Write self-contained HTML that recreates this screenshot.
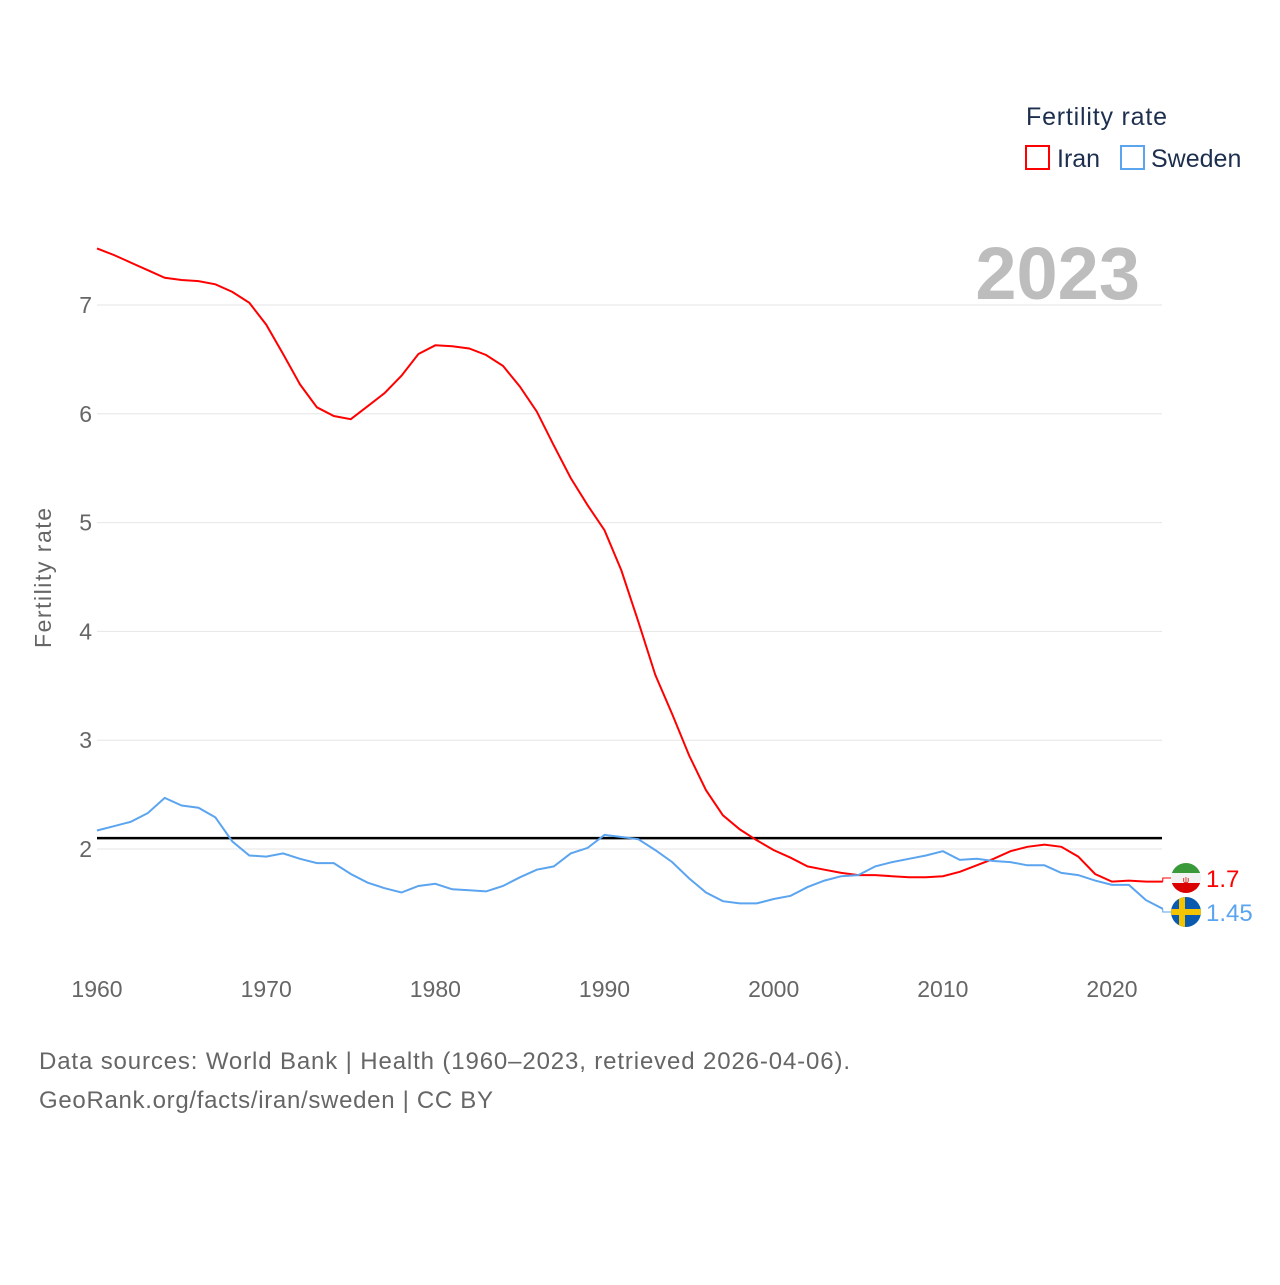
<!DOCTYPE html>
<html><head><meta charset="utf-8"><style>
body{margin:0;background:#fff;width:1280px;height:1280px;overflow:hidden;font-family:"Liberation Sans",sans-serif}
</style></head><body>
<svg id="chart" width="1280" height="1280" xmlns="http://www.w3.org/2000/svg" font-family="Liberation Sans, sans-serif">
<text x="1026" y="125" font-size="25" fill="#1d2f4e" textLength="141">Fertility rate</text>
<g><rect x="1026" y="146" width="23" height="23" fill="none" stroke="#f00" stroke-width="2"/><text x="1057" y="167" font-size="25" fill="#1d2f4e">Iran</text></g>
<g><rect x="1121" y="146" width="23" height="23" fill="none" stroke="#5ba4ef" stroke-width="2"/><text x="1151" y="167" font-size="25" fill="#1d2f4e">Sweden</text></g>
<text x="1140" y="299" font-size="74" font-weight="bold" fill="#bdbdbd" text-anchor="end">2023</text>
<text transform="translate(51,578) rotate(-90)" font-size="23" fill="#666" text-anchor="middle" textLength="140">Fertility rate</text>
<g id="grid"></g><g id="series"></g>
<text x="39" y="1069" font-size="24" fill="#666" textLength="811">Data sources: World Bank | Health (1960–2023, retrieved 2026-04-06).</text>
<text x="39" y="1108" font-size="24" fill="#666" textLength="454">GeoRank.org/facts/iran/sweden | CC BY</text>
</svg>
<script>
const years=[];for(let y=1960;y<=2023;y++)years.push(y);
const iran=[7.52,7.46,7.39,7.32,7.25,7.23,7.22,7.19,7.12,7.02,6.82,6.55,6.27,6.06,5.98,5.95,6.07,6.19,6.35,6.55,6.63,6.62,6.60,6.54,6.44,6.25,6.02,5.71,5.41,5.16,4.93,4.56,4.09,3.60,3.24,2.86,2.54,2.31,2.18,2.08,1.99,1.92,1.84,1.81,1.78,1.76,1.76,1.75,1.74,1.74,1.75,1.79,1.85,1.91,1.98,2.02,2.04,2.02,1.93,1.77,1.70,1.71,1.70,1.70];
const sweden=[2.17,2.21,2.25,2.33,2.47,2.40,2.38,2.29,2.07,1.94,1.93,1.96,1.91,1.87,1.87,1.77,1.69,1.64,1.60,1.66,1.68,1.63,1.62,1.61,1.66,1.74,1.81,1.84,1.96,2.01,2.13,2.11,2.09,1.99,1.88,1.73,1.60,1.52,1.50,1.50,1.54,1.57,1.65,1.71,1.75,1.76,1.84,1.88,1.91,1.94,1.98,1.90,1.91,1.89,1.88,1.85,1.85,1.78,1.76,1.71,1.67,1.67,1.53,1.45];
const yTicks=[2,3,4,5,6,7];
const xTicks=[1960,1970,1980,1990,2000,2010,2020];
const replacement=[2.1];
const NS='http://www.w3.org/2000/svg';
const X=y=>97+(y-1960)*16.917;
const Y=v=>1066.6-v*108.8;
function mk(t,a,p){const e=document.createElementNS(NS,t);for(const k in a)e.setAttribute(k,a[k]);p.appendChild(e);return e;}
const grid=document.getElementById('grid'),ser=document.getElementById('series');
yTicks.forEach(v=>{
 const l=mk('line',{x1:97,x2:1162,y1:Y(v),y2:Y(v),stroke:'#e6e6e6','stroke-width':1},grid);
 
 
 const t=mk('text',{x:92,y:Y(v)+8,'font-size':23,fill:'#666','text-anchor':'end'},grid);t.textContent=v;
 
 
});
xTicks.forEach(v=>{
 const t=mk('text',{x:X(v),y:997,'font-size':23,fill:'#666','text-anchor':'middle'},grid);t.textContent=v;
 
 
});
replacement.forEach(v=>{
 const l=mk('line',{x1:97,x2:1162,y1:Y(v),y2:Y(v),stroke:'#000','stroke-width':2.5},grid);
 
 
});
function line(data,color,name,ly,label){
 const p=mk('path',{d:data.map((v,i)=>(i?'L':'M')+X(years[i]).toFixed(1)+','+Y(v).toFixed(1)).join(''),fill:'none',stroke:color,'stroke-width':2},ser);
 
 
 const last=data[data.length-1],lx=X(years[years.length-1]);
 mk('path',{d:`M${lx},${Y(last)} L${lx},${ly} L1172,${ly}`,fill:'none',stroke:color,'stroke-width':1},ser);
 const t=mk('text',{x:1206,y:ly+9,'font-size':24,fill:color},ser);t.textContent=label;
 
 
}
line(iran,'#f00','iran',878,'1.7');
line(sweden,'#5ba4ef','sweden',912,'1.45');
const fi=mk('g',{},ser);


const cp=mk('clipPath',{id:'c1'},fi);
mk('circle',{cx:1186,cy:878,r:15},cp);
const g1=mk('g',{'clip-path':'url(#c1)'},fi);
mk('rect',{x:1171,y:863,width:30,height:10,fill:'#3a9a3a'},g1);
mk('rect',{x:1171,y:873,width:30,height:10,fill:'#f2f2f2'},g1);
mk('rect',{x:1171,y:883,width:30,height:10,fill:'#da0000'},g1);
mk('text',{x:1186,y:883,'font-size':9,fill:'#da0000','text-anchor':'middle'},g1).textContent='ψ';
const fs=mk('g',{},ser);


const cp2=mk('clipPath',{id:'c2'},fs);
mk('circle',{cx:1186,cy:912,r:15},cp2);
const g2=mk('g',{'clip-path':'url(#c2)'},fs);
mk('rect',{x:1171,y:897,width:30,height:30,fill:'#0a5bb0'},g2);
mk('rect',{x:1171,y:909,width:30,height:6,fill:'#f5c400'},g2);
mk('rect',{x:1179,y:897,width:6,height:30,fill:'#f5c400'},g2);
</script>
</body></html>
